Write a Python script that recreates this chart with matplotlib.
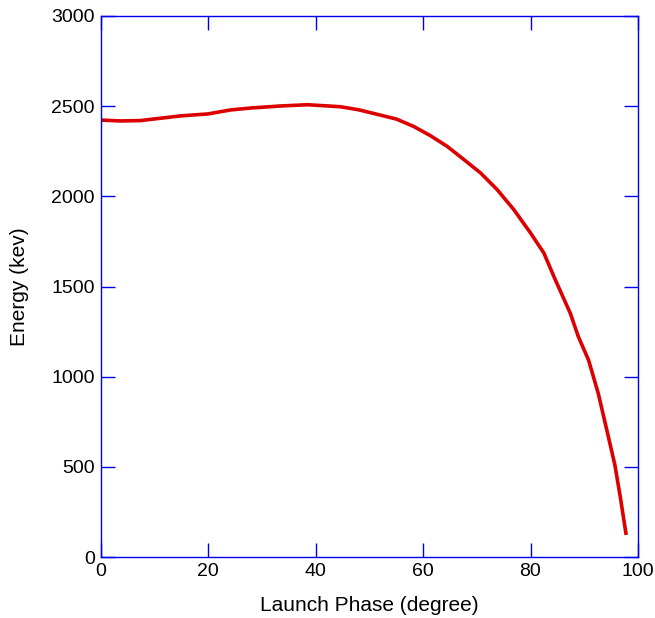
import numpy as np
import matplotlib
matplotlib.use("Agg")
import matplotlib.pyplot as plt

# launch phase (degree) and energy (kev)
phase = [0.0, 3.7, 7.4, 14.9, 20.0, 24.2, 28.0, 33.5, 38.5, 44.6, 48.0,
         52.0, 55.1, 58.3, 61.4, 64.5, 67.6, 70.7, 73.8, 76.9, 80.0, 82.5,
         84.5, 86.0, 87.4, 88.9, 90.8, 92.6, 94.2, 95.7, 96.7, 97.8]
energy = [2423, 2418, 2420, 2446, 2457, 2479, 2490, 2501, 2508, 2497, 2480,
          2451, 2428, 2387, 2336, 2277, 2204, 2130, 2037, 1926, 1797, 1685,
          1545, 1445, 1352, 1222, 1092, 908, 704, 510, 334, 122]

xticks = [0, 20, 40, 60, 80, 100]
yticks = [0, 500, 1000, 1500, 2000, 2500, 3000]

plt.rcParams['font.family'] = ['Liberation Sans', 'DejaVu Sans']

fig = plt.figure(figsize=(6.55, 6.18), dpi=100)
ax = fig.add_axes([100.5 / 655, 1 - 557 / 618, 537.5 / 655, 541 / 618])

ax.plot(phase, energy, color='#dd0000', linewidth=2.6, solid_capstyle='butt',
        solid_joinstyle='round')

ax.set_xlim(0, 100)
ax.set_ylim(0, 3000)
ax.set_xticks(xticks)
ax.set_yticks(yticks)

blue = '#0000ee'
for s in ax.spines.values():
    s.set_color(blue)
    s.set_linewidth(1.0)
ax.tick_params(direction='in', length=10, width=1.0, color=blue,
               top=True, right=True, labelsize=14, pad=4)

ax.set_xlabel('Launch Phase (degree)', fontsize=15, labelpad=12)
ax.set_ylabel('Energy (kev)', fontsize=15, labelpad=16)

plt.savefig('out.png', dpi=100)
plt.close()
